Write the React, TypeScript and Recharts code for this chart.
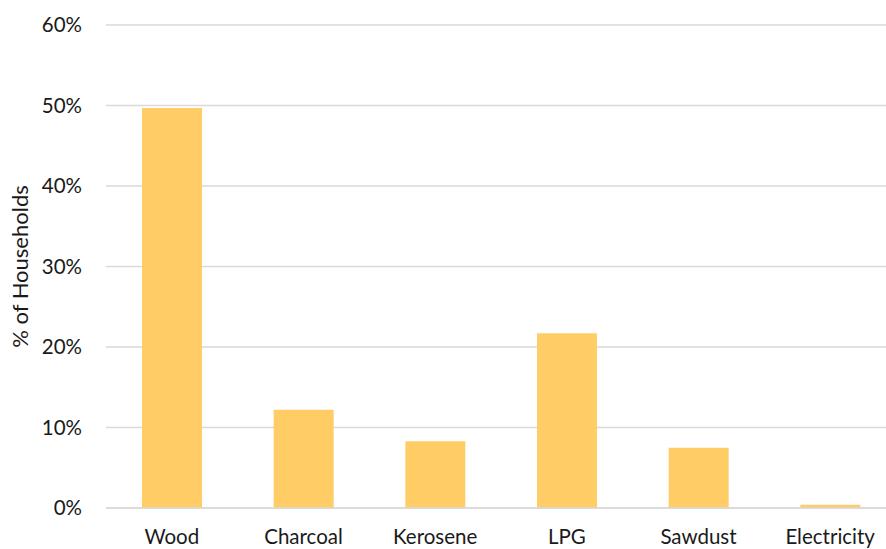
import React from 'react';
import { BarChart, Bar, XAxis, YAxis, CartesianGrid } from 'recharts';

const fuels = ['Wood', 'Charcoal', 'Kerosene', 'LPG', 'Sawdust', 'Electricity'];
const households = [0.497, 0.122, 0.083, 0.217, 0.075, 0.004];
const yTicks = [0, 0.1, 0.2, 0.3, 0.4, 0.5, 0.6];

const data = fuels.map((fuel, i) => ({ fuel, value: households[i] }));

const font = 'Lato, "Open Sans", sans-serif';

const App = () => {
  return (
    <div
      style={{
        position: 'absolute',
        left: 0,
        top: 0,
        width: 886,
        height: 549,
        overflow: 'hidden',
        background: '#fff',
      }}
    >
      <BarChart
        width={900}
        height={549}
        data={data}
        margin={{ top: 25, right: 4, bottom: 0, left: 0 }}
        barSize={60}
      >
        <CartesianGrid vertical={false} stroke="#d9d9d9" strokeWidth={1.5} />
        <XAxis
          dataKey="fuel"
          height={41}
          axisLine={{ stroke: '#d9d9d9', strokeWidth: 1.5 }}
          tickLine={false}
          tickMargin={15}
          tick={{ fill: '#1a1a1a', fontSize: 20.5, fontFamily: font }}
          interval={0}
        />
        <YAxis
          width={106}
          domain={[0, 0.6]}
          ticks={yTicks}
          axisLine={false}
          tickLine={false}
          tickMargin={18}
          tickFormatter={(v: number) => `${Math.round(v * 100)}%`}
          tick={{ fill: '#1a1a1a', fontSize: 20.5, fontFamily: font }}
          label={{
            value: '% of Households',
            angle: -90,
            position: 'insideLeft',
            offset: 20,
            style: { textAnchor: 'middle', fill: '#1a1a1a', fontSize: 22, fontFamily: font },
          }}
        />
        <Bar dataKey="value" fill="#ffcc66" isAnimationActive={false} />
      </BarChart>
    </div>
  );
};

export default App;
